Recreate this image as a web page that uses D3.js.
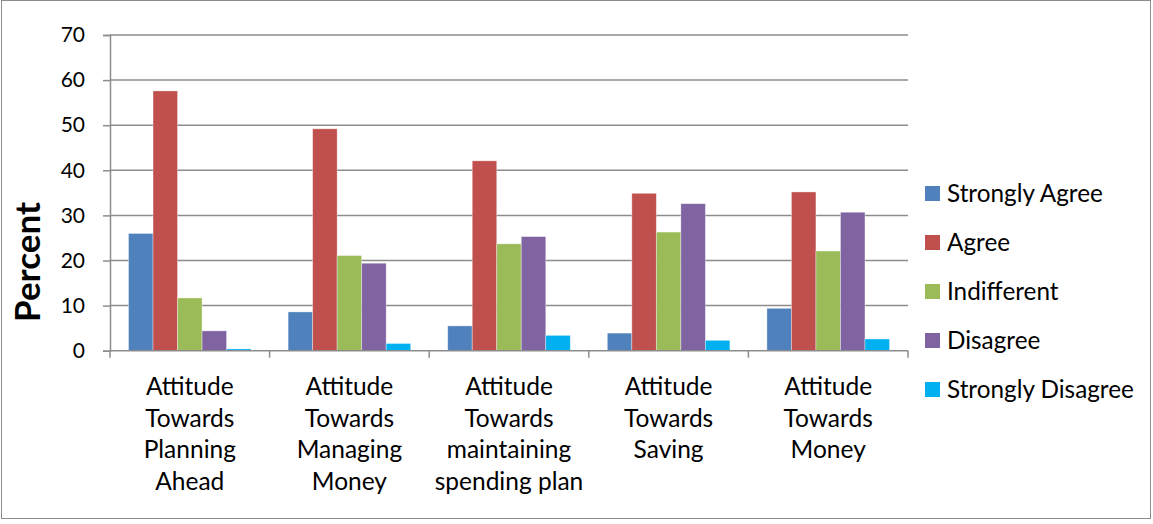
<!DOCTYPE html>
<html>
<head>
<meta charset="utf-8">
<script src="https://cdn.jsdelivr.net/npm/d3@7"></script>
<style>
  html, body { margin: 0; padding: 0; background: #fff; }
  svg { display: block; }
  text { font-family: Lato, "Open Sans", sans-serif; fill: #000; }
</style>
</head>
<body>
<svg id="chart" width="1153" height="524"></svg>
<script>
// Survey attitudes, percentage of respondents per response level
const categories = [
  ["Attitude", "Towards", "Planning", "Ahead"],
  ["Attitude", "Towards", "Managing", "Money"],
  ["Attitude", "Towards", "maintaining", "spending plan"],
  ["Attitude", "Towards", "Saving"],
  ["Attitude", "Towards", "Money"]
];
const seriesNames = ["Strongly Agree", "Agree", "Indifferent", "Disagree", "Strongly Disagree"];
const stronglyAgree    = [26.0, 8.6, 5.5, 3.9, 9.4];
const agree            = [57.6, 49.2, 42.1, 34.9, 35.2];
const indifferent      = [11.7, 21.1, 23.7, 26.3, 22.1];
const disagree         = [4.4, 19.4, 25.3, 32.6, 30.7];
const stronglyDisagree = [0.4, 1.6, 3.4, 2.3, 2.6];
const yTicks = [0, 10, 20, 30, 40, 50, 60, 70];
const colors = ["#4F81BD", "#C0504D", "#9BBB59", "#8064A2", "#00B0F0"];

const seriesValues = [stronglyAgree, agree, indifferent, disagree, stronglyDisagree];

const svg = d3.select("#chart");
const plot = { left: 110, right: 908, top: 35, bottom: 350.7 };
const gridColor = "#8c8c8c";

// outer frame
svg.append("rect")
  .attr("x", 1.5).attr("y", 0.5)
  .attr("width", 1149).attr("height", 518)
  .attr("fill", "none").attr("stroke", "#8c8c8c").attr("stroke-width", 1);

const catIdx = d3.range(categories.length);
const x0 = d3.scaleBand().domain(catIdx).range([plot.left, plot.right])
  .paddingInner(0.232).paddingOuter(0.116);
const x1 = d3.scaleBand().domain(d3.range(seriesNames.length)).range([0, x0.bandwidth()]);
const y = d3.scaleLinear().domain([0, 70]).range([plot.bottom, plot.top]);

// horizontal gridlines
svg.append("g").selectAll("line").data(yTicks.filter(t => t > 0)).join("line")
  .attr("x1", plot.left).attr("x2", plot.right)
  .attr("y1", d => y(d)).attr("y2", d => y(d))
  .attr("stroke", gridColor).attr("stroke-width", 1.5);

// y axis
const yAxis = svg.append("g").attr("transform", `translate(${plot.left},0)`)
  .call(d3.axisLeft(y).tickValues(yTicks).tickSize(7).tickPadding(18));
yAxis.select(".domain").attr("stroke", gridColor).attr("stroke-width", 1.5);
yAxis.selectAll(".tick line").attr("stroke", gridColor).attr("stroke-width", 1.5);
yAxis.selectAll(".tick text").attr("font-size", 21).attr("font-family", "Lato, sans-serif").attr("fill", "#000");

// bars
const groups = svg.append("g").selectAll("g").data(catIdx).join("g")
  .attr("transform", i => `translate(${x0(i)},0)`);
groups.selectAll("rect")
  .data(i => seriesValues.map((vals, s) => ({ s, v: vals[i] })))
  .join("rect")
  .attr("x", d => x1(d.s))
  .attr("width", x1.bandwidth())
  .attr("y", d => y(d.v))
  .attr("height", d => y(0) - y(d.v))
  .attr("fill", d => colors[d.s])
  .attr("stroke", "rgba(255,255,255,0.45)").attr("stroke-width", 0.8);

// x axis
const boundaries = d3.range(categories.length + 1).map(i =>
  plot.left + i * (plot.right - plot.left) / categories.length);
svg.append("line")
  .attr("x1", plot.left).attr("x2", plot.right)
  .attr("y1", plot.bottom).attr("y2", plot.bottom)
  .attr("stroke", gridColor).attr("stroke-width", 1.5);
svg.append("g").selectAll("line").data(boundaries).join("line")
  .attr("x1", d => d).attr("x2", d => d)
  .attr("y1", plot.bottom).attr("y2", plot.bottom + 7)
  .attr("stroke", gridColor).attr("stroke-width", 1.5);

// category labels
const labels = svg.append("g").selectAll("text").data(catIdx).join("text")
  .attr("text-anchor", "middle")
  .attr("font-size", 24.5)
  .attr("transform", i => `translate(${x0(i) + x0.bandwidth() / 2},395)`);
labels.selectAll("tspan").data(i => categories[i]).join("tspan")
  .attr("x", 0).attr("y", (d, k) => k * 31.6)
  .text(d => d);

// y axis title
svg.append("text")
  .attr("transform", "translate(40,262) rotate(-90)")
  .attr("text-anchor", "middle")
  .attr("font-size", 35).attr("font-weight", "bold")
  .text("Percent");

// legend
const legend = svg.append("g").selectAll("g").data(seriesNames).join("g")
  .attr("transform", (d, i) => `translate(925,${201.5 + i * 49})`);
legend.append("rect")
  .attr("x", 0).attr("y", -15.5).attr("width", 15).attr("height", 15)
  .attr("fill", (d, i) => colors[i]);
legend.append("text")
  .attr("x", 22).attr("y", 0)
  .attr("font-size", 24.3)
  .text(d => d);
</script>
</body>
</html>
